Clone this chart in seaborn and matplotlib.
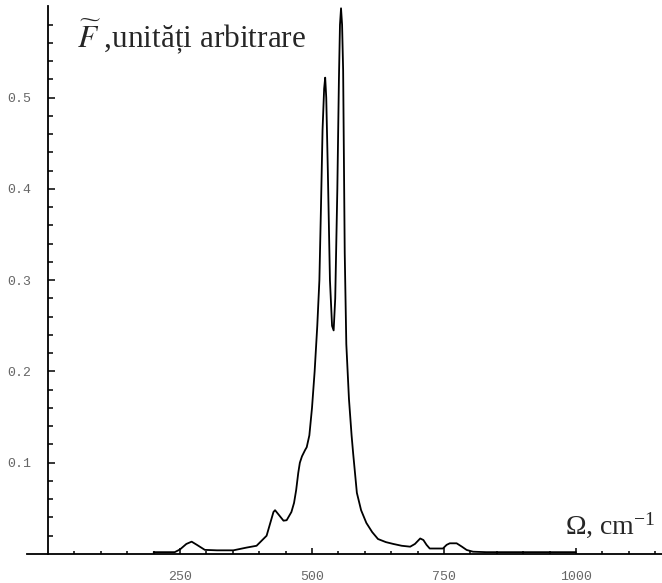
import numpy as np
import pandas as pd
import matplotlib
matplotlib.use("Agg")
import matplotlib.pyplot as plt
import seaborn as sns
from matplotlib.ticker import FixedLocator

# Spectral density, arbitrary units, versus wavenumber (cm^-1)
omega = [200, 240, 250, 262, 272, 282, 297, 320, 351, 376, 395, 414, 427, 430,
         437, 446, 452, 461, 466, 470, 474, 477, 481, 487, 490, 495, 500, 505,
         510, 514, 517, 520, 523, 525, 527, 530, 534, 538, 541, 544, 548, 551,
         553, 555, 557, 559, 562, 565, 570, 575, 578, 585, 593, 603, 614, 625,
         640, 654, 670, 686, 695, 705, 711, 717, 723, 748, 755, 761, 774, 784,
         793, 805, 830, 900, 1000]
intensity = [0.002, 0.002, 0.005, 0.011, 0.0135, 0.010, 0.0045, 0.004, 0.004,
             0.007, 0.009, 0.020, 0.046, 0.048, 0.043, 0.0365, 0.037, 0.046,
             0.056, 0.070, 0.089, 0.100, 0.107, 0.114, 0.117, 0.130, 0.160,
             0.200, 0.250, 0.300, 0.380, 0.465, 0.510, 0.522, 0.500, 0.420,
             0.300, 0.250, 0.245, 0.280, 0.400, 0.520, 0.580, 0.598, 0.580,
             0.530, 0.330, 0.230, 0.170, 0.130, 0.110, 0.067, 0.048, 0.034,
             0.024, 0.0164, 0.013, 0.011, 0.009, 0.008, 0.011, 0.017, 0.0153,
             0.010, 0.006, 0.006, 0.010, 0.0117, 0.0117, 0.008, 0.0044, 0.0025,
             0.002, 0.002, 0.002]

x_major = [250, 500, 750, 1000]
x_minor = [50, 100, 150, 200, 300, 350, 400, 450, 550, 600, 650, 700, 800,
           850, 900, 950, 1050, 1100, 1150]
y_major = [0.1, 0.2, 0.3, 0.4, 0.5]
y_minor = [0.02, 0.04, 0.06, 0.08, 0.12, 0.14, 0.16, 0.18, 0.22, 0.24, 0.26,
           0.28, 0.32, 0.34, 0.36, 0.38, 0.42, 0.44, 0.46, 0.48, 0.52, 0.54,
           0.56, 0.58]

df = pd.DataFrame({"omega": omega, "F": intensity})

sns.set_style("white")
plt.rcParams["mathtext.fontset"] = "stix"

fig = plt.figure(figsize=(6.62, 5.83), dpi=100)
ax = fig.add_axes([0, 0, 1, 1])
ax.patch.set_alpha(0)

sns.lineplot(data=df, x="omega", y="F", color="black", linewidth=1.3,
             estimator=None, sort=False, ax=ax)

ax.set_xlim(-91, 1163)
ax.set_ylim(-0.0318, 0.6071)

# axes crossing at the origin
for side in ("top", "right"):
    ax.spines[side].set_visible(False)
ax.spines["left"].set_position(("data", 0))
ax.spines["bottom"].set_position(("data", 0))
ax.spines["left"].set_bounds(0, 0.6)
ax.spines["bottom"].set_bounds(-40, 1163)
for side in ("left", "bottom"):
    ax.spines[side].set_color("black")
    ax.spines[side].set_linewidth(1.3)

ax.xaxis.set_major_locator(FixedLocator(x_major))
ax.xaxis.set_minor_locator(FixedLocator(x_minor))
ax.yaxis.set_major_locator(FixedLocator(y_major))
ax.yaxis.set_minor_locator(FixedLocator(y_minor))
ax.set_xticklabels([str(v) for v in x_major])
ax.set_yticklabels([f"{v:.1f}" for v in y_major])

ax.tick_params(axis="both", which="both", direction="in", color="black",
               labelcolor="#666666", labelsize=9.5, width=1.1,
               bottom=True, left=True, top=False, right=False)
ax.tick_params(axis="x", which="major", length=4.5, pad=12)
ax.tick_params(axis="x", which="minor", length=2.2)
ax.tick_params(axis="y", which="major", length=5, pad=12)
ax.tick_params(axis="y", which="minor", length=3.5)
for lab in ax.get_xticklabels() + ax.get_yticklabels():
    lab.set_family("Liberation Mono")

ax.set_xlabel("")
ax.set_ylabel("")

fig.text(77 / 662, 1 - 47 / 583, r"$\widetilde{F}$ ,unități arbitrare",
         family="Liberation Serif", fontsize=22.5, va="baseline", ha="left")
fig.text(565 / 662, 1 - 535 / 583, r"Ω, cm$^{\mathregular{-1}}$",
         family="Liberation Serif", fontsize=20, va="baseline", ha="left")

fig.savefig("out.png", dpi=100)
